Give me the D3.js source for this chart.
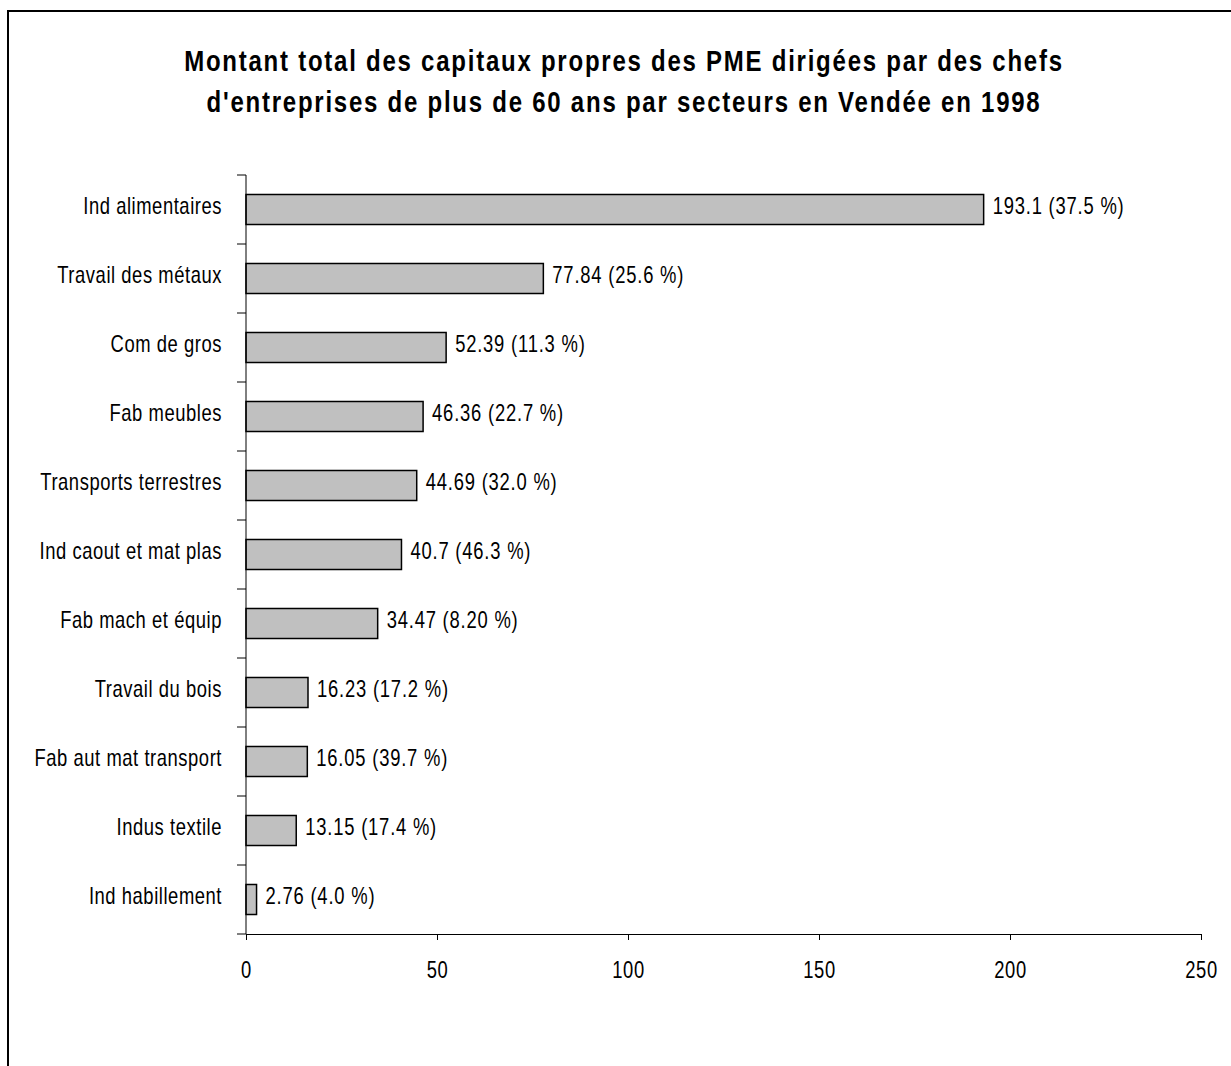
<!DOCTYPE html>
<html>
<head>
<meta charset="utf-8">
<script src="https://cdn.jsdelivr.net/npm/d3@7"></script>
<style>
  body { margin: 0; background: #fff; }
  svg text { font-family: "Liberation Sans", Arial, sans-serif; fill: #000; }
</style>
</head>
<body>
<svg id="chart" width="1231" height="1066"></svg>
<script>
// data
var categories = ["Ind alimentaires", "Travail des métaux", "Com de gros", "Fab meubles",
  "Transports terrestres", "Ind caout et mat plas", "Fab mach et équip", "Travail du bois",
  "Fab aut mat transport", "Indus textile", "Ind habillement"];
var values = [193.1, 77.84, 52.39, 46.36, 44.69, 40.7, 34.47, 16.23, 16.05, 13.15, 2.76];
var shares = ["37.5", "25.6", "11.3", "22.7", "32.0", "46.3", "8.20", "17.2", "39.7", "17.4", "4.0"];
var xTicks = [0, 50, 100, 150, 200, 250];
var titleLines = ["Montant total des capitaux propres des PME dirigées par des chefs",
  "d'entreprises de plus de 60 ans par secteurs en Vendée en 1998"];

var squeeze = 0.8; // the original type is narrow but loosely spaced

var svg = d3.select("#chart");

// outer frame (right and bottom edges fall off the picture)
svg.append("rect")
  .attr("x", 8).attr("y", 11)
  .attr("width", 1260).attr("height", 1100)
  .attr("fill", "none").attr("stroke", "#000").attr("stroke-width", 2);

function narrowText(parent, x, y, txt, anchor, size, spacing, weight){
  return parent.append("text")
    .attr("transform", "translate(" + x + "," + y + ") scale(" + squeeze + ",1)")
    .attr("text-anchor", anchor)
    .attr("font-size", size)
    .attr("font-weight", weight || "normal")
    .attr("letter-spacing", spacing)
    .text(txt);
}

// title
titleLines.forEach(function(t, i){
  narrowText(svg, 624, 71 + i * 41, t, "middle", 30, 2.2, "bold");
});

var x = d3.scaleLinear().domain([0, 250]).range([246, 1201]);
var y = d3.scaleBand().domain(categories).range([175, 934])
  .paddingInner(0.565).paddingOuter(0.2825);

// bars
svg.selectAll("rect.bar")
  .data(values)
  .enter()
  .append("rect")
  .attr("class", "bar")
  .attr("x", x(0))
  .attr("y", function(d, i){ return y(categories[i]); })
  .attr("width", function(d){ return x(d) - x(0); })
  .attr("height", y.bandwidth())
  .attr("fill", "#c0c0c0")
  .attr("stroke", "#000")
  .attr("stroke-width", 1.5);

// value labels
values.forEach(function(d, i){
  narrowText(svg, x(d) + 9, y(categories[i]) + y.bandwidth() / 2 + 4,
    d + " (" + shares[i] + " %)", "start", 23, 1);
});

// category labels
categories.forEach(function(c){
  narrowText(svg, 222, y(c) + y.bandwidth() / 2 + 4, c, "end", 23, 0.7);
});

// y axis line and ticks on band boundaries
var yr = y.range();
svg.append("line")
  .attr("x1", x(0)).attr("x2", x(0))
  .attr("y1", yr[0]).attr("y2", yr[1])
  .attr("stroke", "#000").attr("stroke-width", 1);
d3.range(categories.length + 1).forEach(function(i){
  var yy = yr[0] + i * y.step();
  svg.append("line")
    .attr("x1", x(0) - 9).attr("x2", x(0))
    .attr("y1", yy).attr("y2", yy)
    .attr("stroke", "#000").attr("stroke-width", 1);
});

// x axis
var xAxis = svg.append("g")
  .attr("transform", "translate(0," + yr[1] + ")")
  .call(d3.axisBottom(x).tickValues(xTicks).tickSize(6).tickSizeOuter(0).tickPadding(22));
xAxis.select(".domain").attr("stroke", "#000");
xAxis.selectAll(".tick line").attr("stroke", "#000");
xAxis.selectAll(".tick text")
  .attr("font-family", null)
  .attr("font-size", 23)
  .attr("letter-spacing", 0.7)
  .attr("fill", "#000")
  .attr("transform", "scale(" + squeeze + ",1)");
</script>
</body>
</html>
